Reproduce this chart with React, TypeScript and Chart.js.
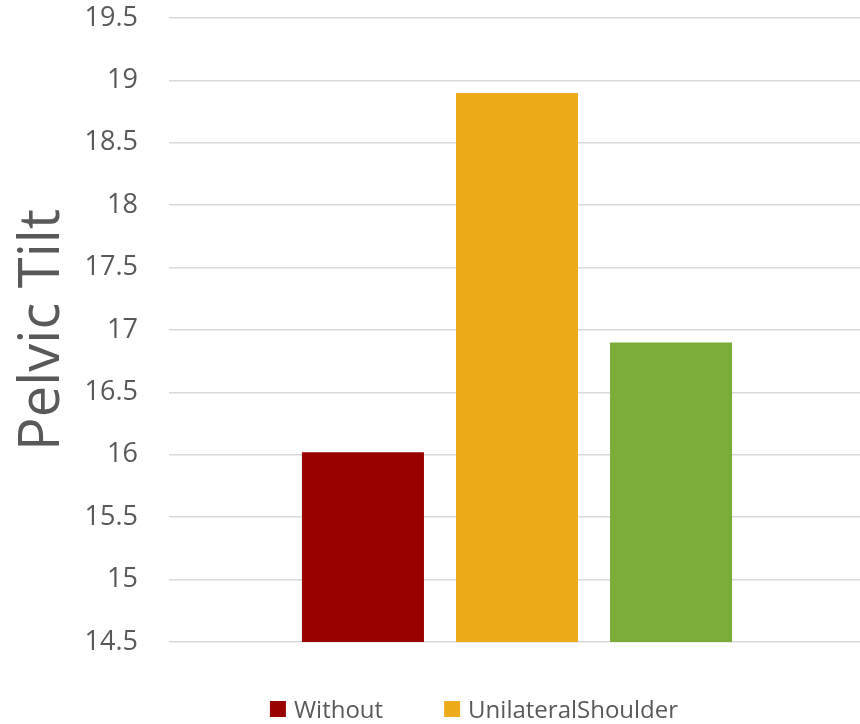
import { useEffect, useRef } from "react";
import { Chart, registerables } from "chart.js";

Chart.register(...registerables);

// Data
const categories = [""];
const seriesLabels = ["Without", "UnilateralShoulder", "BilateralShoulder"];
const withoutValues = [16.02];
const unilateralValues = [18.9];
const bilateralValues = [16.9];
const yTickValues = [14.5, 15, 15.5, 16, 16.5, 17, 17.5, 18, 18.5, 19, 19.5];
const yTitle = "Pelvic Tilt";

const seriesColors = ["#990000", "#EDAA19", "#7AAC37"];

const FONT = "'Open Sans', sans-serif";
const TEXT_COLOR = "#595959";
const GRID_COLOR = "#d9d9d9";

const CANVAS_W = 948;
const CANVAS_H = 800;

// Legend drawn below the plot, items wrapped into centred rows
const bottomLegend = {
  id: "bottomLegend",
  afterDraw(chart: any) {
    const { ctx, chartArea, width } = chart;
    const box = 16;
    const boxGap = 8;
    const itemGap = 61;
    const maxRow = 520;
    ctx.save();
    ctx.font = `24px ${FONT}`;
    const items = chart.data.datasets.map((ds: any) => ({
      label: ds.label as string,
      color: ds.backgroundColor as string,
      w: box + boxGap + ctx.measureText(ds.label).width,
    }));
    const rows: any[][] = [[]];
    let rowW = 0;
    for (const it of items) {
      const cur = rows[rows.length - 1];
      const add = cur.length ? itemGap + it.w : it.w;
      if (cur.length && rowW + add > maxRow) {
        rows.push([it]);
        rowW = it.w;
      } else {
        cur.push(it);
        rowW += add;
      }
    }
    rows.forEach((row, ri) => {
      const total = row.reduce((s, it, i) => s + it.w + (i ? itemGap : 0), 0);
      let x = width / 2 - total / 2;
      const baseline = chartArea.bottom + 76 + ri * 40;
      for (const it of row) {
        ctx.fillStyle = it.color;
        ctx.fillRect(x, baseline - 17, box, box);
        ctx.fillStyle = TEXT_COLOR;
        ctx.textBaseline = "alphabetic";
        ctx.textAlign = "left";
        ctx.fillText(it.label, x + box + boxGap, baseline);
        x += it.w + itemGap;
      }
    });
    ctx.restore();
  },
};

export default function App() {
  const canvasRef = useRef<HTMLCanvasElement | null>(null);

  useEffect(() => {
    const canvas = canvasRef.current;
    if (!canvas) return;
    const seriesValues = [withoutValues, unilateralValues, bilateralValues];
    const chart = new Chart(canvas, {
      type: "bar",
      data: {
        labels: categories,
        datasets: seriesLabels.map((label, i) => ({
          label,
          data: seriesValues[i],
          backgroundColor: seriesColors[i],
          borderWidth: 0,
          categoryPercentage: 0.664,
          barPercentage: 0.792,
        })),
      },
      options: {
        responsive: false,
        animation: false,
        devicePixelRatio: 1,
        layout: { padding: { top: 18, right: 83, bottom: 158, left: 0 } },
        plugins: {
          legend: { display: false },
          tooltip: { enabled: false },
        },
        scales: {
          x: { display: false },
          y: {
            min: 14.5,
            max: 19.5,
            afterBuildTicks: (scale: any) => {
              scale.ticks = yTickValues.map((v) => ({ value: v }));
            },
            afterFit: (scale: any) => {
              scale.width = 169;
              scale.paddingTop = 0;
              scale.paddingBottom = 0;
            },
            border: { display: false },
            grid: { color: GRID_COLOR, lineWidth: 1.5, drawTicks: false },
            ticks: {
              padding: 31,
              color: TEXT_COLOR,
              font: { family: FONT, size: 27 },
              callback: (v: any) => String(v),
            },
            title: {
              display: true,
              text: yTitle,
              color: TEXT_COLOR,
              font: { family: FONT, size: 56 },
              padding: { top: 9, bottom: 0 },
            },
          },
        },
      },
      plugins: [bottomLegend],
    });
    return () => chart.destroy();
  }, []);

  return (
    <div
      style={{
        position: "fixed",
        left: 0,
        top: 0,
        width: 860,
        height: 724,
        overflow: "hidden",
        background: "#ffffff",
      }}
    >
      <canvas
        ref={canvasRef}
        width={CANVAS_W}
        height={CANVAS_H}
        style={{ display: "block", width: CANVAS_W, height: CANVAS_H }}
      />
    </div>
  );
}
